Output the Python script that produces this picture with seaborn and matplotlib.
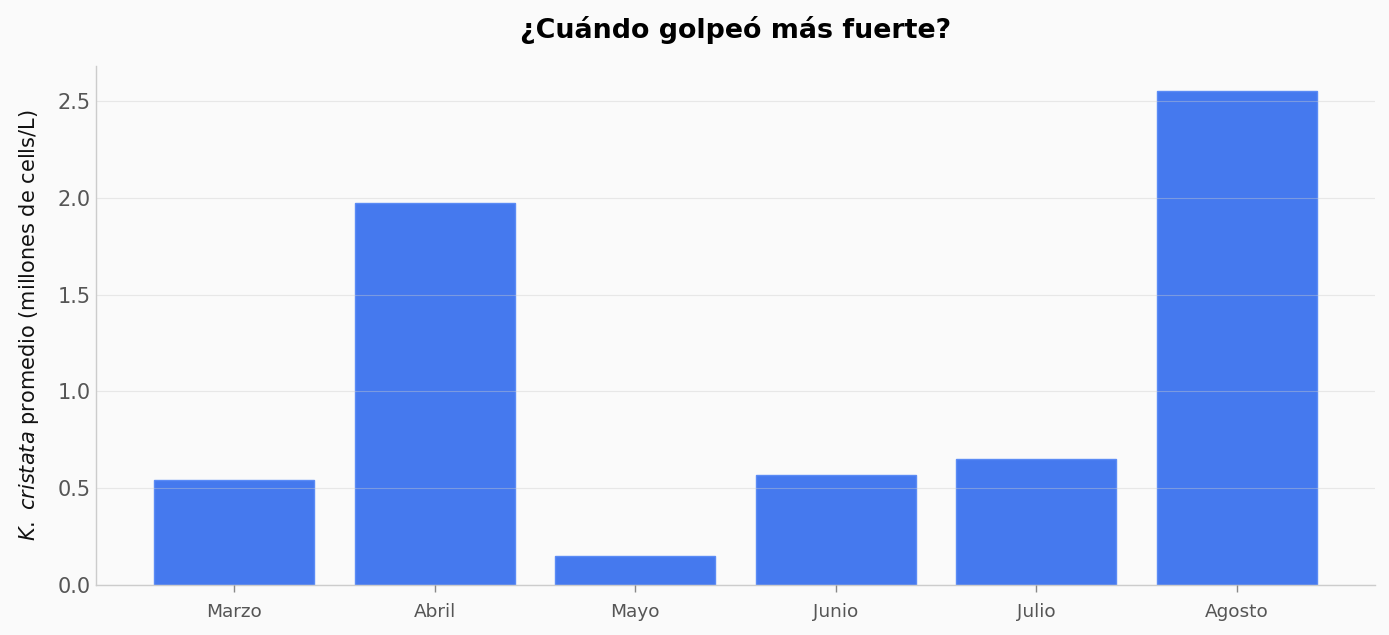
import matplotlib
matplotlib.use("Agg")
import matplotlib.pyplot as plt
import seaborn as sns
import pandas as pd

meses = ["Marzo", "Abril", "Mayo", "Junio", "Julio", "Agosto"]
promedio = [0.54, 1.975, 0.148, 0.57, 0.653, 2.555]

df = pd.DataFrame({"mes": meses, "valor": promedio})

sns.set_style("white")
plt.rcParams["font.family"] = ["DejaVu Sans"]

fig, ax = plt.subplots(figsize=(13.89, 6.35), dpi=100)
fig.patch.set_facecolor("#fafafa")
ax.set_facecolor("#fafafa")

sns.barplot(data=df, x="mes", y="valor", color="#4579ee", saturation=1,
            width=0.8, edgecolor="#5b8bf5", linewidth=1, ax=ax)

ax.set_xlim(-0.69, 5.69)
ax.set_ylim(0, 2.683)
ax.set_yticks([0, 0.5, 1.0, 1.5, 2.0, 2.5])
ax.set_axisbelow(False)
ax.yaxis.grid(True, color="#cccccc", alpha=0.4, linewidth=0.8)
ax.xaxis.grid(False)

for s in ["top", "right"]:
    ax.spines[s].set_visible(False)
for s in ["left", "bottom"]:
    ax.spines[s].set_color("#cccccc")
    ax.spines[s].set_linewidth(1)

ax.tick_params(axis="y", labelsize=15, labelcolor="#555555", length=0)
ax.tick_params(axis="x", labelsize=13.3, labelcolor="#555555", length=5,
               color="#888888", width=1, bottom=True, pad=8)

ax.set_xlabel("")
ax.set_ylabel(r"$\it{K.\ cristata}$ promedio (millones de cells/L)", fontsize=15,
              color="#111111", labelpad=12)
ax.set_title("¿Cuándo golpeó más fuerte?", fontsize=19.4, fontweight="bold",
             color="black", pad=20)

fig.subplots_adjust(left=0.069, right=0.99, top=0.896, bottom=0.079)
fig.savefig("out.png", dpi=100, facecolor=fig.get_facecolor())
